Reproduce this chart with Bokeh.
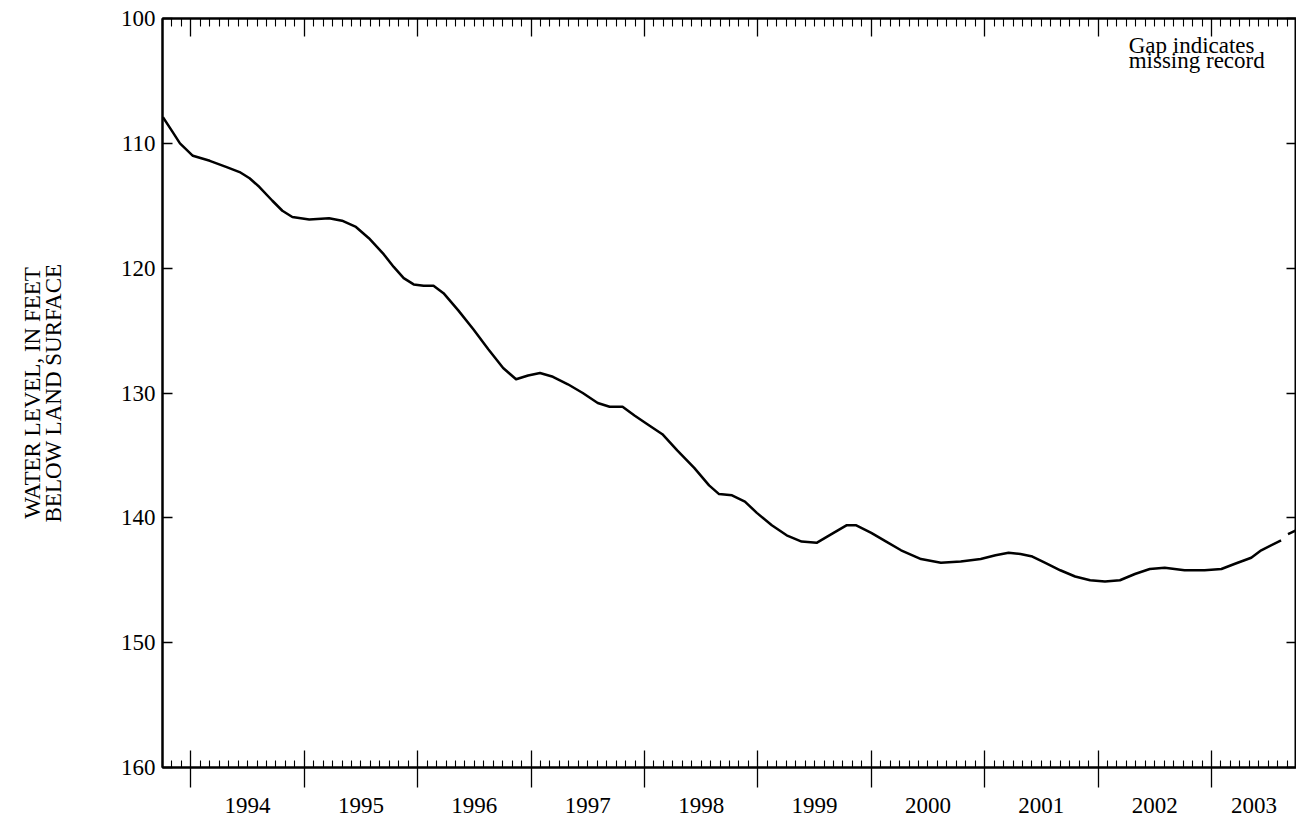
import math
from bokeh.plotting import figure
from bokeh.models import Range1d, LinearAxis, FixedTicker, Label
from bokeh.embed import file_html
from bokeh.resources import INLINE

# ---- data (decimal calendar year, water level in feet below land surface) ----
year_frac = [1993.754, 1993.833, 1993.904, 1994.018, 1994.167, 1994.316, 1994.430, 1994.518,
             1994.605, 1994.719, 1994.807, 1994.895, 1995.044, 1995.219, 1995.333, 1995.456,
             1995.570, 1995.702, 1995.789, 1995.877, 1995.965, 1996.053, 1996.140, 1996.228,
             1996.360, 1996.491, 1996.623, 1996.754, 1996.868, 1996.974, 1997.079, 1997.193,
             1997.325, 1997.456, 1997.588, 1997.693, 1997.807, 1997.912, 1998.026, 1998.158,
             1998.289, 1998.439, 1998.570, 1998.658, 1998.772, 1998.886, 1998.991, 1999.123,
             1999.254, 1999.386, 1999.518, 1999.649, 1999.781, 1999.868, 2000.000, 2000.132,
             2000.263, 2000.439, 2000.614, 2000.789, 2000.965, 2001.096, 2001.211, 2001.316,
             2001.421, 2001.535, 2001.667, 2001.798, 2001.930, 2002.061, 2002.193, 2002.325,
             2002.456, 2002.588, 2002.763, 2002.939, 2003.088, 2003.202, 2003.351, 2003.439,
             2003.614, 2003.640, 2003.675, 2003.746]
water_level = [107.9, 109.0, 110.0, 111.0, 111.4, 111.9, 112.3, 112.8,
               113.5, 114.6, 115.4, 115.9, 116.1, 116.0, 116.2, 116.7,
               117.6, 118.9, 119.9, 120.8, 121.3, 121.4, 121.4, 122.0,
               123.4, 124.9, 126.5, 128.0, 128.9, 128.6, 128.4, 128.7,
               129.3, 130.0, 130.8, 131.1, 131.1, 131.8, 132.5, 133.3,
               134.6, 136.0, 137.4, 138.1, 138.2, 138.7, 139.6, 140.6,
               141.4, 141.9, 142.0, 141.3, 140.6, 140.6, 141.2, 141.9,
               142.6, 143.3, 143.6, 143.5, 143.3, 143.0, 142.8, 142.9,
               143.1, 143.6, 144.2, 144.7, 145.0, 145.1, 145.0, 144.5,
               144.1, 144.0, 144.2, 144.2, 144.1, 143.7, 143.2, 142.6,
               141.8, float("nan"), 141.3, 141.0]

year_labels = ["1994", "1995", "1996", "1997", "1998", "1999", "2000", "2001", "2002", "2003"]
y_ticks = [100, 110, 120, 130, 140, 150, 160]
y_title = "WATER LEVEL, IN FEET\nBELOW LAND SURFACE"
note_lines = ["Gap indicates", "missing record"]

X_START, X_END = 1993.75, 2003.75
FONT = "Liberation Serif"
FS = "23px"

year_starts = [float(y) for y in year_labels]
label_pos = [(s + min(s + 1.0, X_END)) / 2.0 for s in year_starts]
month_ticks = [X_START + k / 12.0 for k in range(0, 121)]
month_ticks = [m for m in month_ticks if all(abs(m - s) > 1e-6 for s in year_starts)]

p = figure(width=1296, height=816, output_backend="svg", toolbar_location=None,
           x_axis_type=None, y_axis_type=None,
           x_range=Range1d(X_START, X_END), y_range=Range1d(160, 100),
           min_border_left=162, min_border_right=0, min_border_top=18, min_border_bottom=49)
p.grid.visible = False
p.outline_line_color = "black"
p.outline_line_width = 2
p.background_fill_color = "white"
p.border_fill_color = "white"

p.line(year_frac, water_level, line_color="black", line_width=2.5, line_join="round")

def style(ax):
    ax.axis_line_width = 2
    ax.axis_line_color = "black"
    ax.major_tick_line_color = "black"
    ax.minor_tick_line_color = "black"
    ax.major_tick_line_width = 1.3
    ax.minor_tick_line_width = 1.1
    ax.major_label_text_font = FONT
    ax.major_label_text_font_size = FS
    ax.major_label_text_color = "black"
    ax.axis_label_text_font = FONT
    ax.axis_label_text_font_size = FS
    ax.axis_label_text_font_style = "normal"
    ax.axis_label_text_color = "black"

# bottom inner ticks
xa = LinearAxis(ticker=FixedTicker(ticks=year_starts, minor_ticks=month_ticks))
style(xa)
xa.major_tick_in = 17
xa.major_tick_out = 0
xa.minor_tick_in = 7
xa.minor_tick_out = 0
xa.major_label_text_font_size = "0px"
xa.major_label_standoff = 0
xa.major_label_overrides = {s: "" for s in year_starts}
p.add_layout(xa, "below")

# bottom labels + outer ticks
xb = LinearAxis(ticker=FixedTicker(ticks=label_pos, minor_ticks=year_starts))
style(xb)
xb.axis_line_color = None
xb.major_tick_line_color = None
xb.major_tick_in = 0
xb.major_tick_out = 0
xb.minor_tick_in = 0
xb.minor_tick_out = 20
xb.minor_tick_line_width = 1.3
xb.major_label_standoff = 10
xb.major_label_overrides = {pos: lab for pos, lab in zip(label_pos, year_labels)}
p.add_layout(xb, "below")

# top ticks
xt = LinearAxis(ticker=FixedTicker(ticks=year_starts, minor_ticks=month_ticks))
style(xt)
xt.major_tick_in = 18
xt.major_tick_out = 0
xt.minor_tick_in = 8
xt.minor_tick_out = 0
xt.major_label_text_font_size = "0px"
xt.major_label_standoff = 0
xt.major_label_overrides = {s: "" for s in year_starts}
p.add_layout(xt, "above")

# left axis
yl = LinearAxis(ticker=FixedTicker(ticks=y_ticks, minor_ticks=[]))
style(yl)
yl.major_tick_in = 10
yl.major_tick_out = 0
yl.minor_tick_in = 0
yl.minor_tick_out = 0
yl.major_label_standoff = 7
yl.axis_label = y_title
yl.axis_label_text_line_height = 0.85
yl.axis_label_standoff = 52
p.add_layout(yl, "left")

# right axis
yr = LinearAxis(ticker=FixedTicker(ticks=y_ticks, minor_ticks=[]))
style(yr)
yr.major_tick_in = 10
yr.major_tick_out = 0
yr.minor_tick_in = 0
yr.minor_tick_out = 0
yr.major_label_text_font_size = "0px"
yr.major_label_standoff = 0
yr.major_label_overrides = {t: "" for t in y_ticks}
p.add_layout(yr, "right")

NOTE_X = 2002.27
NOTE_Y = 102.2
for i, line in enumerate(note_lines):
    p.add_layout(Label(x=NOTE_X, y=NOTE_Y + 1.15 * i, text=line, text_font=FONT,
                       text_font_size=FS, text_align="left", text_baseline="alphabetic",
                       text_color="black"))

open("out.html", "w").write(file_html(p, INLINE))
